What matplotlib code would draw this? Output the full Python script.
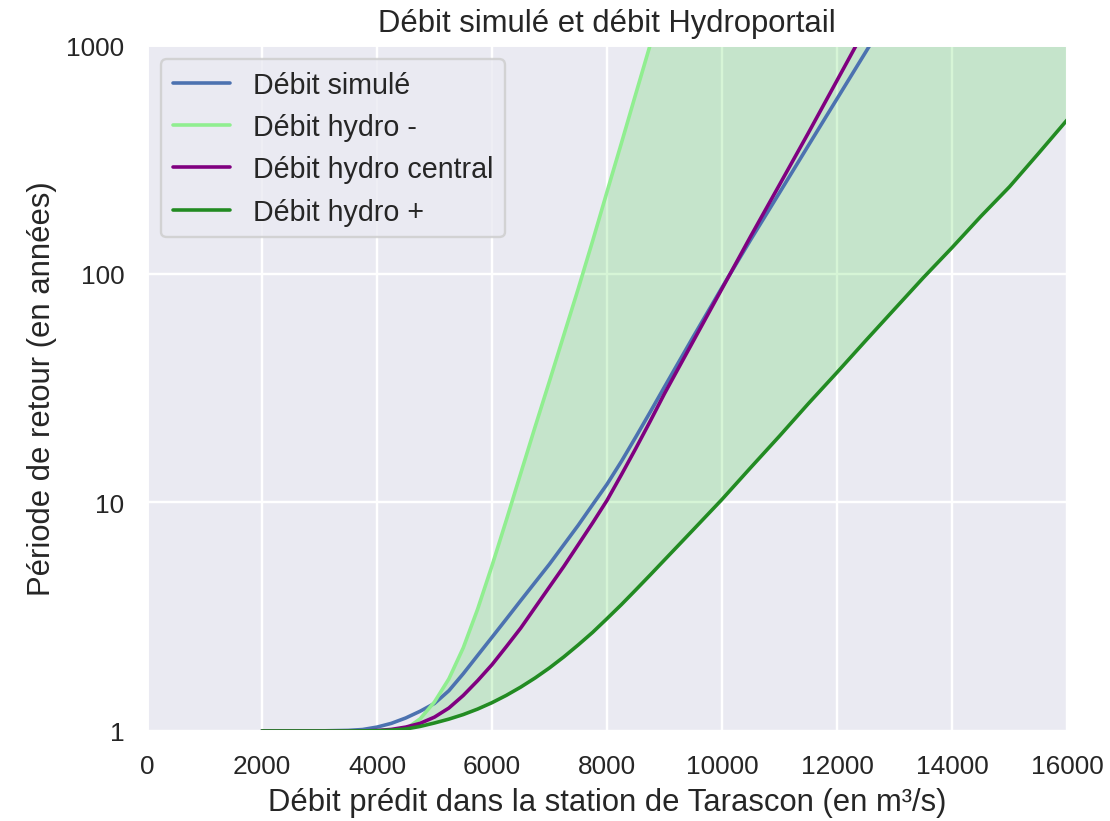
import matplotlib
matplotlib.use("Agg")
import matplotlib.pyplot as plt
import seaborn as sns
from matplotlib.ticker import NullFormatter

# Flows (m3/s) at which the return periods were read
debits = [2000, 2500, 3000, 3500, 3750, 4000, 4250, 4500, 4750, 5000, 5250, 5500,
          5750, 6000, 6250, 6500, 6750, 7000, 7250, 7500, 7750, 8000, 8250, 8500,
          8750, 9000, 9500, 10000, 10500, 11000, 11500, 12000, 12500, 13000,
          13500, 14000, 14500, 15000, 15500, 16000]

# Return periods (years)
t_simule = [1.0, 1.0, 1.001, 1.006, 1.015, 1.04, 1.08, 1.14, 1.22, 1.32, 1.5, 1.78,
            2.14, 2.57, 3.09, 3.72, 4.47, 5.37, 6.53, 7.94, 9.77, 12.0, 15.1, 19.3,
            24.8, 32, 53, 87, 141, 226, 363, 582, 933, 1500,
            2420, 3900, 6300, 10100, 16300, 26000]
t_hydro_moins = [1.0, 1.0, 1.0, 1.0, 1.0, 1.0, 1.005, 1.02, 1.13, 1.34, 1.69, 2.31,
                 3.41, 5.28, 8.37, 13.4, 21.4, 33.9, 54, 86, 139, 228, 372, 611,
                 1000, 1620, 4400, 1.2e4, 3.2e4, 8.6e4, 2.3e5, 6.2e5, 1.7e6, 4.5e6,
                 1.2e7, 3.3e7, 8.8e7, 2.4e8, 6.4e8, 1.7e9]
t_hydro_central = [1.0, 1.0, 1.0, 1.0, 1.001, 1.005, 1.016, 1.04, 1.08, 1.15, 1.26, 1.43,
                   1.66, 1.95, 2.34, 2.82, 3.47, 4.27, 5.25, 6.53, 8.13, 10.2, 13.2, 17.2,
                   22.6, 29.9, 50.7, 86, 146, 245, 412, 700, 1190, 2030,
                   3450, 5900, 10000, 17000, 29000, 50000]
t_hydro_plus = [1.0, 1.0, 1.0, 1.0, 1.001, 1.003, 1.009, 1.02, 1.047, 1.084, 1.127, 1.18,
                1.247, 1.33, 1.432, 1.556, 1.706, 1.888, 2.11, 2.38, 2.7, 3.1, 3.57, 4.14,
                4.81, 5.6, 7.59, 10.3, 14.2, 19.5, 27, 37, 51, 70,
                96, 130, 178, 240, 335, 470]

sns.set_theme(style="darkgrid")
plt.rcParams["font.family"] = ["Liberation Sans", "DejaVu Sans"]

fig, ax = plt.subplots(figsize=(1110 / 172, 822 / 172), dpi=172)
fig.subplots_adjust(left=0.1324, right=0.9613, top=0.944, bottom=0.1095)

# band between the two Hydroportail bounds
ax.fill_between(debits, t_hydro_plus, t_hydro_moins, color="limegreen", alpha=0.2, linewidth=0)
ax.plot(debits, t_simule, color="#4c72b0", label="Débit simulé")
ax.plot(debits, t_hydro_moins, color="lightgreen", label="Débit hydro -")
ax.plot(debits, t_hydro_central, color="purple", label="Débit hydro central")
ax.plot(debits, t_hydro_plus, color="forestgreen", label="Débit hydro +")

ax.set_yscale("log")
ax.set_xlim(0, 16000)
ax.set_ylim(1, 1000)
ax.set_yticks([1, 10, 100, 1000])
ax.set_yticklabels(["1", "10", "100", "1000"])
ax.yaxis.set_minor_formatter(NullFormatter())

ax.set_title("Débit simulé et débit Hydroportail", fontsize=13)
ax.set_xlabel("Débit prédit dans la station de Tarascon (en m³/s)", fontsize=13)
ax.set_ylabel("Période de retour (en années)", fontsize=13)
ax.legend(loc="upper left", fontsize=12)

fig.savefig("out.png", dpi=172)
